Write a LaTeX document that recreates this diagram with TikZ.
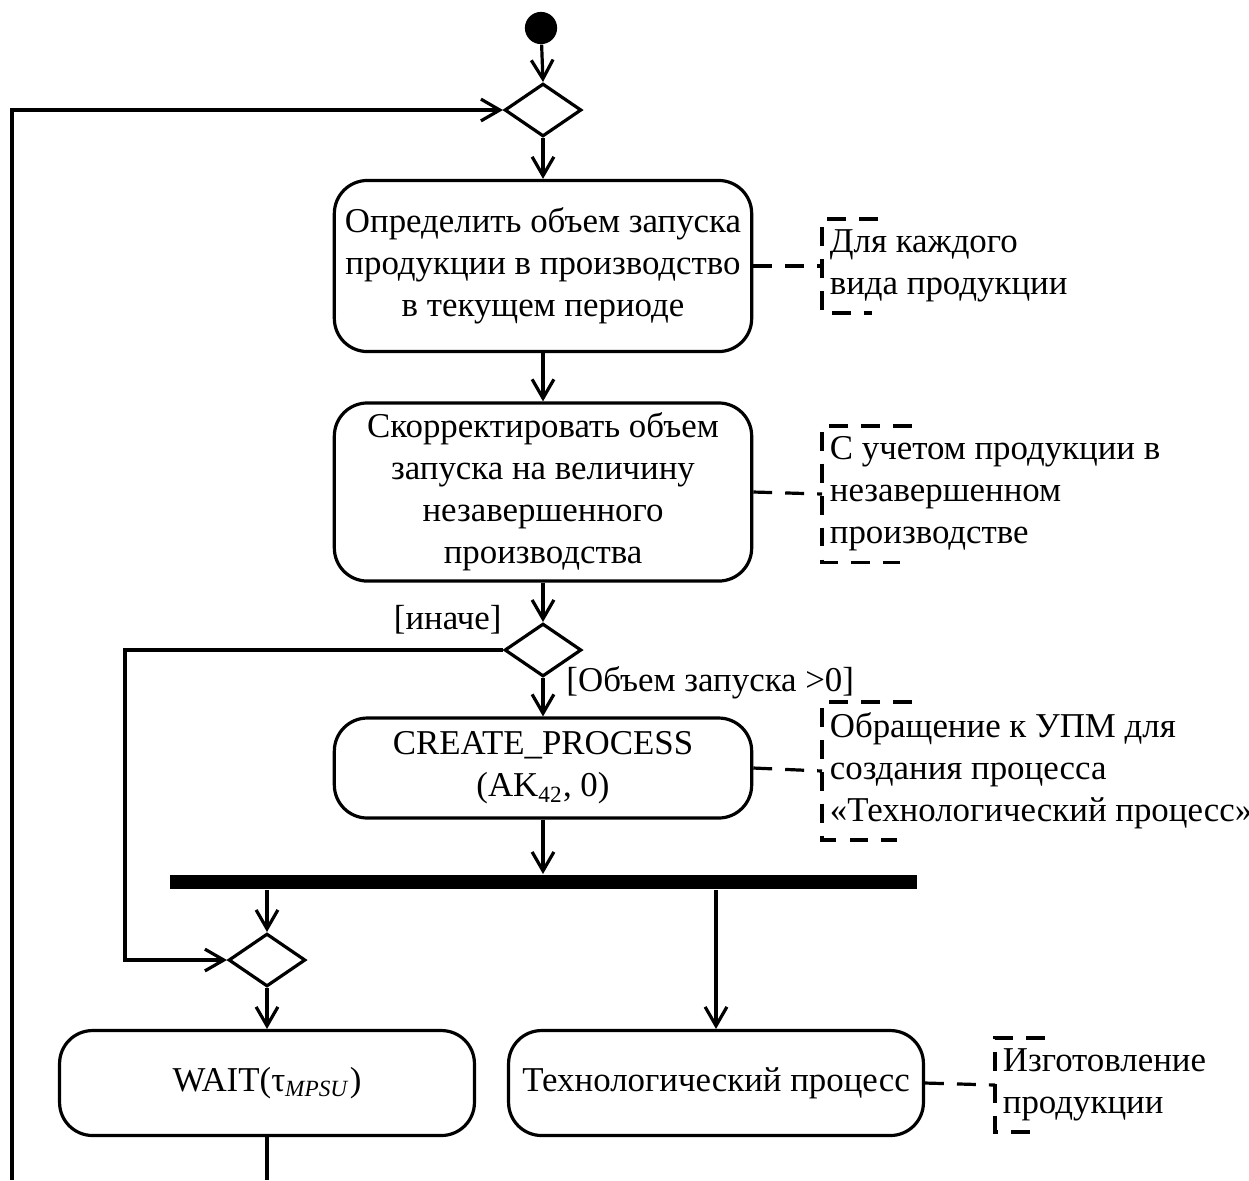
\documentclass[tikz,border=0pt]{standalone}
\usepackage{fontspec}
\setmainfont{Liberation Serif}
\usetikzlibrary{positioning,shapes.geometric,arrows.meta}

\begin{document}
\begin{tikzpicture}[
		x=0.0121cm, y=-0.0121cm,
		font=\fontsize{12}{14.5}\selectfont,
		action/.style={draw, rectangle, rounded corners=0.4cm, line width=1.1pt, minimum width=5.05cm, align=center},
		decision/.style={draw, diamond, line width=1.1pt, inner sep=0pt, minimum width=0.93cm, minimum height=0.64cm},
		forkbar/.style={fill=black, rectangle, inner sep=0pt, minimum width=9.04cm, minimum height=0.18cm},
		remark/.style={anchor=west, align=left, inner xsep=2.5pt, inner ysep=3.5pt},
		line/.style={line width=1.1pt},
		flow/.style={line width=1.1pt, -{Straight Barb[length=6.5pt,width=7.5pt]}},
		dline/.style={line width=1.1pt, dash pattern=on 6.5pt off 4.5pt}
		]
		\useasboundingbox (0,0) rectangle (1249,1180);
		
		% ======================
		% Start and first merge
		% ======================
		\node[circle, fill=black, minimum size=0.39cm, inner sep=0pt] (start) at (541,28) {};
		\node[decision] (dia1) at (543,110) {};
		
		% ======================
		% Main actions
		% ======================
		\node[action, minimum height=2.07cm] (define) at (543,266) {Определить объем запуска\\продукции в производство\\в текущем периоде};
		
		\node[action, minimum height=2.08cm] (correct) at (543,492) {Скорректировать объем\\запуска на величину\\незавершенного\\производства};
		
		\node[decision] (dia2) at (543,650) {};
		
		\node[action, minimum height=1.21cm] (create) at (543,768) {CREATE\_PROCESS\\(AK\textsubscript{42}, 0)};
		
		\node[forkbar] (fork) at (543.5,882) {};
		
		\node[decision] (dia3) at (267,960) {};
		
		\node[action, minimum height=1.27cm, minimum width=5.02cm] (wait) at (267,1083) {WAIT(τ\textsubscript{\textit{MPSU}})};
		
		\node[action, minimum height=1.27cm, minimum width=5.02cm] (tech) at (716,1083) {Технологический процесс};
		
		% ======================
		% Guards
		% ======================
		\node[anchor=east, inner sep=1pt] (lblelse) at (505,620) {[иначе]};
		\node[anchor=west, inner sep=1pt] (lblgo) at (563,683) {[Объем запуска >0]};
		
		% ======================
		% Remarks
		% ======================
		\node[remark] (rem1) at (822,266) {Для каждого\\вида продукции};
		\node[remark] (rem2) at (822,494) {С учетом продукции в\\незавершенном\\производстве};
		\node[remark] (rem3) at (822,771) {Обращение к УПМ для\\создания процесса\\«Технологический процесс»};
		\node[remark] (rem5) at (995,1085) {Изготовление\\продукции};
		
		\coordinate (cutleft) at (12,1180);
		\coordinate (cutwait) at (267,1180);
		
		% ======================
		% CONNECTIONS
		% ======================
		\draw[flow] (start) -- (dia1.north);
		\draw[flow] (dia1.south) -- (define.north);
		\draw[flow] (define.south) -- (correct.north);
		\draw[flow] (correct.south) -- (dia2.north);
		\draw[flow] (dia2.south) -- (create.north);
		\draw[flow] (create.south) -- (create.south |- fork.north);
		\draw[flow] (dia3 |- fork.south) -- (dia3.north);
		\draw[flow] (tech |- fork.south) -- (tech.north);
		\draw[flow] (dia3.south) -- (wait.north);
		\draw[flow] (dia2.west) -- ++(-378,0) |- (dia3.west);
		\draw[line] (wait.south) -- (cutwait);
		\draw[flow] (cutleft) |- (dia1.west);
		
		% ======================
		% REMARK LINKS
		% ======================
		\draw[dline] (define.east) -- (rem1.west);
		\draw[dline] (rem1.north west) ++(56,0) -- (rem1.north west) -- (rem1.south west) -- ++(50,0);
		\draw[dline] (correct.east) -- (rem2.west);
		\draw[dline] (rem2.north west) ++(90,0) -- (rem2.north west) -- (rem2.south west) -- ++(78,0);
		\draw[dline] (create.east) -- (rem3.west);
		\draw[dline] (rem3.north west) ++(90,0) -- (rem3.north west) -- (rem3.south west) -- ++(75,0);
		\draw[dline] (tech.east) -- (rem5.west);
		\draw[dline] (rem5.north west) ++(50,0) -- (rem5.north west) -- (rem5.south west) -- ++(46,0);
		
	\end{tikzpicture}
\end{document}
